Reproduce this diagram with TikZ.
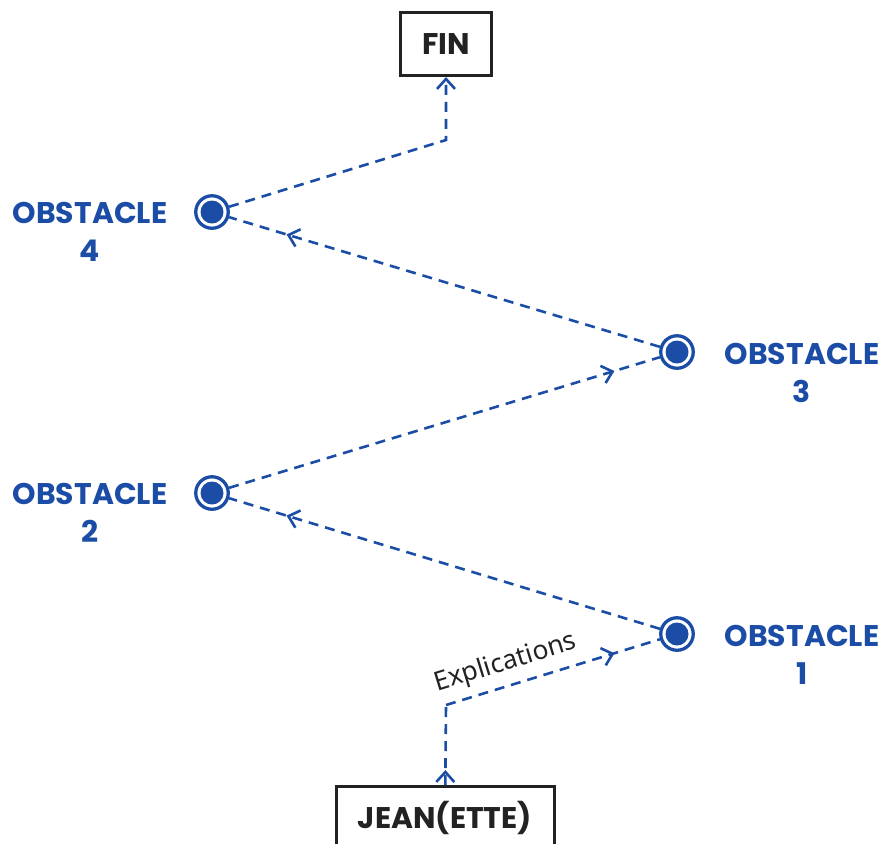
\documentclass[tikz,border=0pt]{standalone}
\usepackage{fontspec}
\setmainfont{Poppins}
\newfontfamily\explfont{Noto Sans}
\usetikzlibrary{arrows.meta,decorations.markings}
\definecolor{obsblue}{HTML}{1B4DA6}
\definecolor{ink}{HTML}{222222}

\begin{document}
\begin{tikzpicture}[x=0.02cm,y=-0.02cm,
  vtip/.tip={Straight Barb[length=0.2cm,width=0.36cm]},
  box/.style={draw=ink,line width=0.06cm,text=ink,font=\bfseries\fontsize{17}{20}\selectfont,inner xsep=0.44cm,minimum height=1.26cm},
  obs/.style={circle,draw=obsblue,line width=0.066cm,minimum size=0.65cm,inner sep=0pt,
    path picture={\fill[obsblue] (path picture bounding box.center) circle (0.23cm);}},
  lbl/.style={text=obsblue,font=\bfseries\fontsize{17}{22}\selectfont,align=center},
  link/.style={obsblue,line width=0.052cm,dash pattern=on 0.2cm off 0.14cm},
  midtip/.style={decoration={markings,mark=at position #1 with {\arrow{vtip}}},postaction={decorate}}]
\useasboundingbox (0,0) rectangle (892,843);
\node[box] (fin) at (446,44) {FIN};
\node[box] (jean) at (445,818) {JEAN(ETTE)};
\node[obs] (o4) at (212,212) {};
\node[obs] (o3) at (677,352) {};
\node[obs] (o2) at (212,493) {};
\node[obs] (o1) at (677,634) {};
\node[lbl] (l4) at (90,232) {OBSTACLE\\4};
\node[lbl] (l3) at (802,373) {OBSTACLE\\3};
\node[lbl] (l2) at (90,513) {OBSTACLE\\2};
\node[lbl] (l1) at (802,655) {OBSTACLE\\1};
\coordinate (b4) at (446,140);
\coordinate (bj) at (446,705);
\draw[link,midtip=0.3cm] (jean) -- (bj);
\draw[link,midtip=-0.95cm] (bj) -- node[pos=0.31,above,sloped,inner sep=0.16cm,text=ink,font=\explfont\fontsize{15}{17}\selectfont]{Explications} (o1);
\draw[link,midtip=-1.2cm] (o1) -- (o2);
\draw[link,midtip=-0.95cm] (o2) -- (o3);
\draw[link,midtip=-1.2cm] (o3) -- (o4);
\draw[link,-vtip] (o4) -- (b4) -- (fin);
\end{tikzpicture}
\end{document}
